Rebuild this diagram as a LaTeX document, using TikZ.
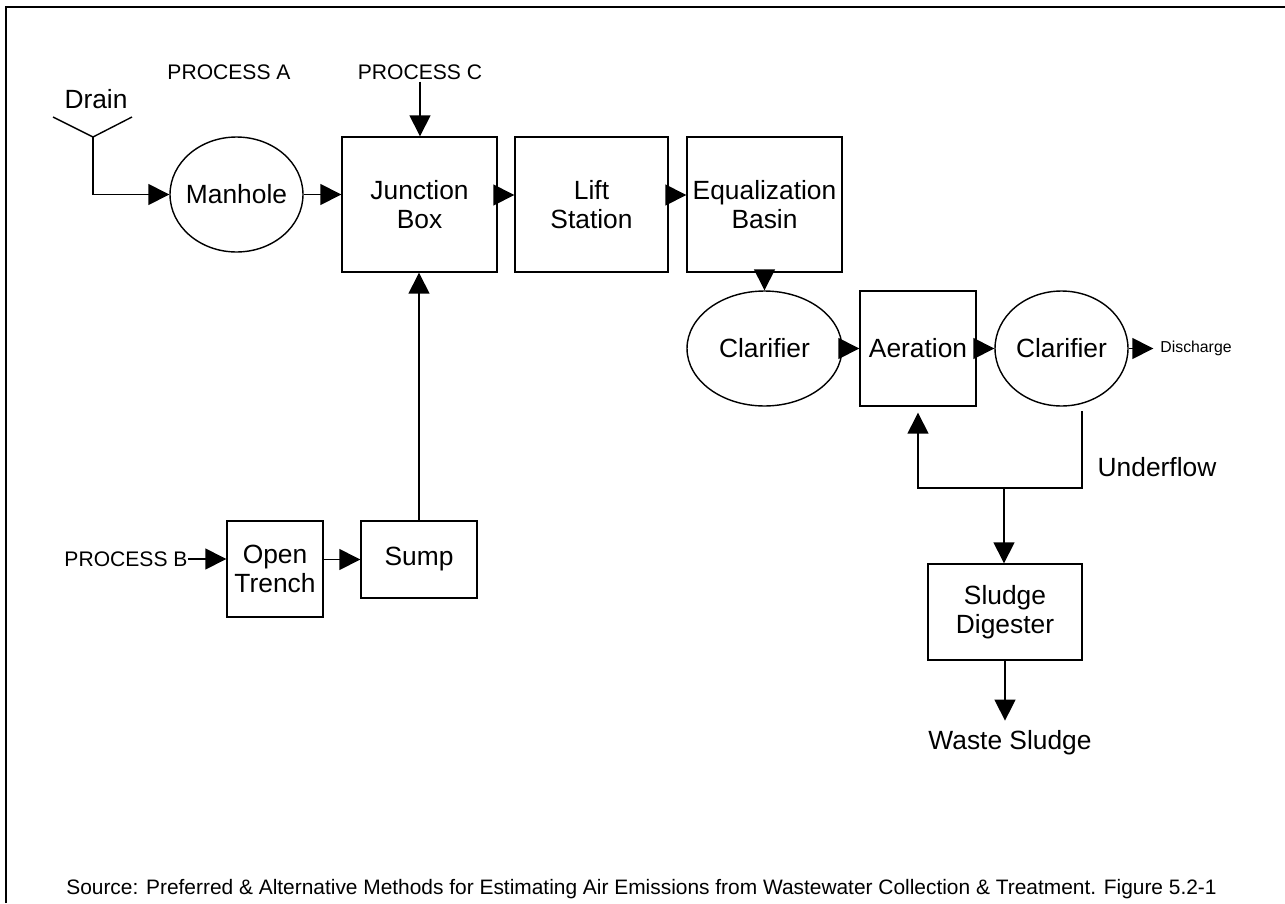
\documentclass[tikz,border=0pt]{standalone}
\usepackage{fontspec}
\setmainfont{Liberation Sans}
\usetikzlibrary{shapes, arrows.meta, positioning, calc}

\tikzset{
  unit/.style={draw, line width=0.8pt, align=center, inner sep=1pt,
    font=\fontsize{15}{16.5}\selectfont},
  vessel/.style={ellipse, draw, line width=0.8pt, inner ysep=0pt, inner xsep=-10pt,
    font=\fontsize{15}{16.5}\selectfont},
  flow/.style={line width=0.8pt, -{Triangle[length=0.42cm, width=0.42cm]}},
  pipe/.style={line width=0.8pt},
  tag/.style={font=\fontsize{12}{14}\selectfont, inner sep=1pt},
  note/.style={font=\fontsize{15}{16.5}\selectfont, inner sep=1pt}
}

\begin{document}
\begin{tikzpicture}[x=0.02cm, y=-0.02cm]
  \useasboundingbox (0,0) rectangle (1285,903);
  % frame
  \draw[line width=1pt] (6,903) -- (6,7) -- (1285,7);

  % Collection: drain, manhole, junction box
  \node[tag] (procA) at (229,72) {PROCESS A};
  \node[tag] (procC) at (420,72) {PROCESS C};
  \node[note] (drain) at (96,99) {Drain};
  \coordinate (dr) at (93,137);
  \draw[pipe] (53,117) -- (dr) -- (132,117);
  \node[vessel, minimum width=2.66cm, minimum height=2.3cm] (manhole) at (236.5,194.5) {Manhole};
  \node[unit, minimum width=3.1cm, minimum height=2.7cm] (junction) at (419.5,204.5) {Junction\\Box};
  \node[unit, minimum width=3.06cm, minimum height=2.7cm] (lift) at (591.5,204.5) {Lift\\Station};
  \node[unit, minimum width=3.1cm, minimum height=2.7cm] (equal) at (764.5,204.5) {Equalization\\Basin};
  \draw[flow] (dr) |- (manhole.west);
  \draw[flow] (manhole.east) -- (manhole.east -| junction.west);
  \draw[flow] (procC.south) -- (procC.south |- junction.north);
  \draw[flow] ([yshift=0.19cm]junction.east) -- ([yshift=0.19cm]lift.west);
  \draw[flow] ([yshift=0.19cm]lift.east) -- ([yshift=0.19cm]equal.west);

  % Process B branch
  \node[tag, inner sep=0pt] (procB) at (126,559) {PROCESS B};
  \node[unit, minimum width=1.92cm, minimum height=1.92cm] (trench) at (275,569) {Open\\Trench};
  \node[unit, minimum width=2.32cm, minimum height=1.54cm] (sump) at (419,559.5) {Sump};
  \draw[flow] (procB.east) -- (procB.east -| trench.west);
  \draw[flow] (trench.east |- sump.west) -- (sump.west);
  \draw[flow] (sump.north) -- (sump.north |- junction.south);

  % Treatment
  \node[vessel, minimum width=3.1cm, minimum height=2.3cm] (clarA) at (764.5,348.5) {Clarifier};
  \node[unit, minimum width=2.32cm, minimum height=2.3cm] (aeration) at (918,348.5) {Aeration};
  \node[vessel, minimum width=2.66cm, minimum height=2.3cm] (clarB) at (1061.5,348.5) {Clarifier};
  \node[font=\fontsize{9}{11}\selectfont, inner sep=1pt] (discharge) at (1196,348.5) {Discharge};
  \draw[flow] (equal.south) -- (clarA.north);
  \draw[flow] (clarA.east) -- (aeration.west);
  \draw[flow] (aeration.east) -- (clarB.west);
  \draw[flow] (clarB.east) -- ([xshift=-0.1cm]discharge.west);

  % Underflow return and sludge
  \node[note] (underflow) at (1157,467) {Underflow};
  \coordinate (ufTop) at (1082,411);
  \coordinate (ufBot) at (1082,488);
  \coordinate (split) at (1004,488);
  \node[unit, minimum width=3.08cm, minimum height=1.92cm] (digester) at (1005,612) {Sludge\\Digester};
  \node[note] (waste) at (1010,743) {Waste Sludge};
  \draw[flow] (ufTop) -- (ufBot) -| ([yshift=-0.12cm]aeration.south);
  \draw[flow] (split) -- (split |- digester.north);
  \draw[flow] (digester.south) -- ([yshift=0.16cm]digester.south |- waste.north);

  % source line
  \node[font=\fontsize{11.9}{13}\selectfont, inner sep=0pt] (source) at (641.5,889)
    {Source: Preferred \& Alternative Methods for Estimating Air Emissions from Wastewater Collection \& Treatment. Figure 5.2-1};
\end{tikzpicture}
\end{document}
